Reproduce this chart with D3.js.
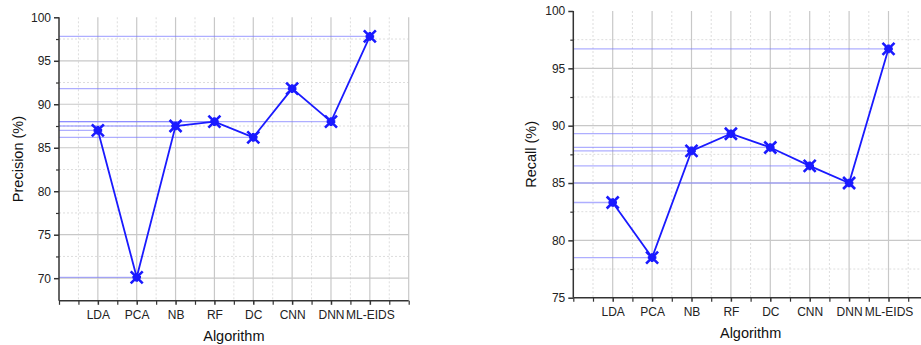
<!DOCTYPE html>
<html>
<head>
<meta charset="utf-8">
<script src="https://cdn.jsdelivr.net/npm/d3@7"></script>
<style>
  body { margin: 0; background: #fff; }
  svg { display: block; font-family: "Liberation Sans", Arial, sans-serif; }
</style>
</head>
<body>
<svg id="chart" width="921" height="345"></svg>
<script>
// categories and values
var algorithms = ["LDA", "PCA", "NB", "RF", "DC", "CNN", "DNN", "ML-EIDS"];
var precision = [87.0, 70.1, 87.5, 88.0, 86.2, 91.8, 88.0, 97.8];
var recall = [83.3, 78.5, 87.8, 89.3, 88.1, 86.5, 85.0, 96.7];
var precisionTicks = [70, 75, 80, 85, 90, 95, 100];
var recallTicks = [75, 80, 85, 90, 95, 100];

var svg = d3.select("#chart");

// star marker: an X with a small + inside
function starPath(s) {
    var a = s * 0.5, b = s * 0.36;
    return "M" + (-a) + "," + (-a) + "L" + a + "," + a +
        "M" + (-a) + "," + a + "L" + a + "," + (-a) +
        "M" + (-b) + ",0H" + b + "M0," + (-b) + "V" + b;
}

function panel(opt) {
    var g = svg.append("g");
    var x = d3.scaleLinear().domain([0, 9]).range([opt.left, opt.left + opt.w]);
    var y = d3.scaleLinear().domain(opt.domain).range([opt.bottom, opt.top]);

    // minor grid (dotted)
    var minorY = d3.range(opt.domain[0], opt.domain[1] + 0.01, 2.5).filter(function (v) { return v % 5 != 0; });
    if (opt.domain[0] % 2.5 != 0) minorY = [72.5, 77.5, 82.5, 87.5, 92.5, 97.5];
    g.selectAll(".gmy").data(minorY).enter().append("line")
        .attr("x1", x(0)).attr("x2", x(9))
        .attr("y1", function (d) { return y(d); }).attr("y2", function (d) { return y(d); })
        .style("stroke", "#ddd").style("stroke-dasharray", "2,2").style("stroke-width", 1);
    var minorX = d3.range(0.5, 9, 1);
    g.selectAll(".gmx").data(minorX).enter().append("line")
        .attr("x1", function (d) { return x(d); }).attr("x2", function (d) { return x(d); })
        .attr("y1", opt.top).attr("y2", opt.bottom)
        .style("stroke", "#ddd").style("stroke-dasharray", "2,2").style("stroke-width", 1);

    // major grid
    g.selectAll(".gy").data(opt.ticks.filter(function (v) { return v != opt.domain[0] && v != 100; })).enter().append("line")
        .attr("x1", x(0)).attr("x2", x(9))
        .attr("y1", function (d) { return y(d); }).attr("y2", function (d) { return y(d); })
        .style("stroke", "#c8c8c8").style("stroke-width", 1.2);
    g.selectAll(".gx").data(d3.range(1, 10)).enter().append("line")
        .attr("x1", function (d) { return x(d); }).attr("x2", function (d) { return x(d); })
        .attr("y1", opt.top).attr("y2", opt.bottom)
        .style("stroke", "#c8c8c8").style("stroke-width", 1.2);

    // drop lines to y axis
    g.selectAll(".drop").data(opt.values).enter().append("line")
        .attr("x1", x(0)).attr("x2", function (d, i) { return x(i + 1); })
        .attr("y1", function (d) { return y(d); }).attr("y2", function (d) { return y(d); })
        .style("stroke", "#7878ff").style("stroke-opacity", 0.6).style("stroke-width", 1.3);

    // y axis
    var yAxis = d3.axisLeft(y).tickValues(opt.ticks).tickSize(5).tickPadding(3);
    var ya = g.append("g").attr("transform", "translate(" + x(0) + ",0)").call(yAxis);
    ya.selectAll("text").style("font-size", "12px").style("fill", "#222");
    ya.select(".domain").attr("d", "M0," + opt.top + "V" + opt.bottom);
    ya.selectAll("line, .domain").style("stroke", "#333").style("stroke-width", 1.5);
    var yMinor = d3.axisLeft(y).tickValues(minorY).tickSize(3).tickFormat("");
    g.append("g").attr("transform", "translate(" + x(0) + ",0)").call(yMinor)
        .call(function (s) { s.select(".domain").remove(); s.selectAll("line").style("stroke", "#333").style("stroke-width", 1.2); });

    // x axis
    var xAxis = d3.axisBottom(x).tickValues(d3.range(1, 9))
        .tickFormat(function (d) { return algorithms[d - 1]; }).tickSize(4).tickPadding(6);
    var xa = g.append("g").attr("transform", "translate(0," + opt.bottom + ")").call(xAxis);
    xa.selectAll("text").style("font-size", "12px").style("fill", "#222");
    xa.select(".domain").attr("d", "M" + x(0) + ",0H" + x(9));
    xa.selectAll("line, .domain").style("stroke", "#333").style("stroke-width", 1.5);
    var xMinor = d3.axisBottom(x).tickValues(d3.range(0, 9.01, 0.5).filter(function (v) { return v < 1 || v > 8 || v % 1 != 0; })).tickSize(4).tickFormat("");
    g.append("g").attr("transform", "translate(0," + opt.bottom + ")").call(xMinor)
        .call(function (s) { s.select(".domain").remove(); s.selectAll("line").style("stroke", "#333").style("stroke-width", 1.2); });

    // line
    var line = d3.line().x(function (d, i) { return x(i + 1); }).y(function (d) { return y(d); });
    g.append("path").datum(opt.values).attr("d", line)
        .style("fill", "none").style("stroke", "#1a1aff").style("stroke-width", 1.8);

    // markers
    g.selectAll(".mk").data(opt.values).enter().append("path")
        .attr("transform", function (d, i) { return "translate(" + x(i + 1) + "," + y(d) + ")"; })
        .attr("d", starPath(12))
        .style("fill", "none").style("stroke", "#1a1aff").style("stroke-width", 2.6);
    g.selectAll(".mk2").data(opt.values).enter().append("circle")
        .attr("cx", function (d, i) { return x(i + 1); }).attr("cy", function (d) { return y(d); })
        .attr("r", 3).style("fill", "none").style("stroke", "#1a1aff").style("stroke-width", 1.4);

    // titles
    g.append("text").attr("transform", "translate(" + opt.ylabelX + "," + ((opt.top + opt.bottom) / 2) + ") rotate(-90)")
        .attr("text-anchor", "middle").style("font-size", "14.5px").style("fill", "#111").text(opt.ylabel);
    g.append("text").attr("x", (x(0) + x(9)) / 2).attr("y", opt.xlabelY)
        .attr("text-anchor", "middle").style("font-size", "14.5px").style("fill", "#111").text("Algorithm");
}

panel({ left: 59, w: 349.7, top: 17.3, bottom: 300.8, domain: [67.4, 100], ticks: precisionTicks,
        values: precision, ylabel: "Precision (%)", ylabelX: 23, xlabelY: 341 });
panel({ left: 573.3, w: 354.6, top: 11, bottom: 297.7, domain: [75, 100], ticks: recallTicks,
        values: recall, ylabel: "Recall (%)", ylabelX: 536, xlabelY: 338 });
</script>
</body>
</html>
